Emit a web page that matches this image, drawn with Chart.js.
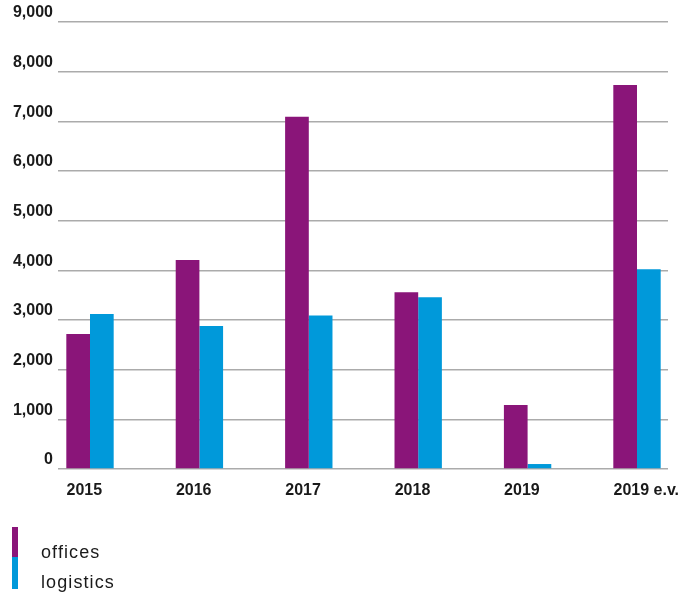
<!DOCTYPE html>
<html>
<head>
<meta charset="utf-8">
<script src="https://cdn.jsdelivr.net/npm/chart.js@4/dist/chart.umd.min.js"></script>
<style>
  html, body { margin: 0; padding: 0; background: #ffffff; }
  #wrap { position: relative; width: 694px; height: 596px; }
  .swatch { position: absolute; left: 12px; width: 6px; }
  .label { position: absolute; left: 41px; font-family: 'Liberation Sans', Arial, sans-serif; font-size: 18px; line-height: 20px; letter-spacing: 1.1px; color: #1a1a1a; }
</style>
</head>
<body>
<div id="wrap">
  <canvas id="chartVolumes" width="694" height="596"></canvas>
</div>
<script>
// --- Datos ---
const years = ['2015', '2016', '2017', '2018', '2019', '2019 e.v.'];
const offices = [2720, 4210, 7090, 3560, 1290, 7730];
const logistics = [3120, 2880, 3090, 3460, 100, 4020];
const yTicks = [0, 1000, 2000, 3000, 4000, 5000, 6000, 7000, 8000, 9000];

const colorOffices = '#8a1579';
const colorLogistics = '#0099da';
const font = "'Liberation Sans', Arial, sans-serif";

function toPoints(values) {
    return values.map((v, i) => ({ x: i, y: v }));
}

// --- Gráfico ---
new Chart(document.getElementById('chartVolumes').getContext('2d'), {
    type: 'bar',
    data: {
        datasets: [
            { label: 'offices', data: toPoints(offices), backgroundColor: colorOffices, borderWidth: 0 },
            { label: 'logistics', data: toPoints(logistics), backgroundColor: colorLogistics, borderWidth: 0 }
        ]
    },
    options: {
        responsive: false, animation: false,
        barPercentage: 1, categoryPercentage: 0.433,
        layout: { padding: { top: 22, right: 26, bottom: 0, left: 0 } },
        plugins: { legend: { display: false }, tooltip: { enabled: false } },
        scales: {
            x: {
                type: 'linear', offset: false, min: -0.2925, max: 5.2834,
                grid: { display: false }, border: { display: false },
                afterBuildTicks: s => { s.ticks = years.map((_, i) => ({ value: i })); },
                // etiquetas alineadas al borde izquierdo de cada grupo, sin relleno extra
                afterFit: s => { s.height = 127; s.paddingLeft = 0; s.paddingRight = 0; },
                ticks: {
                    autoSkip: false, maxRotation: 0, padding: 4, color: '#1a1a1a',
                    align: 'start', labelOffset: -23.5,
                    font: { family: font, size: 16, weight: 'bold' },
                    callback: v => years[v]
                }
            },
            y: {
                min: 0, max: 9000,
                afterBuildTicks: s => { s.ticks = yTicks.map(v => ({ value: v })); },
                afterFit: s => { s.width = 58; },
                border: { display: false },
                grid: { color: '#ababab', lineWidth: 1.5, drawTicks: false },
                ticks: {
                    padding: 5, labelOffset: -9, color: '#1a1a1a',
                    font: { family: font, size: 16, weight: 'bold' },
                    callback: v => v.toLocaleString('en-US')
                }
            }
        }
    }
});

// --- Leyenda ---
const wrap = document.getElementById('wrap');
const legendItems = [
    { name: 'offices', color: colorOffices, top: 527, height: 30, textTop: 542 },
    { name: 'logistics', color: colorLogistics, top: 557, height: 32, textTop: 572 }
];
legendItems.forEach(it => {
    const sw = document.createElement('div');
    sw.className = 'swatch';
    sw.style.top = it.top + 'px';
    sw.style.height = it.height + 'px';
    sw.style.background = it.color;
    wrap.appendChild(sw);
    const lb = document.createElement('div');
    lb.className = 'label';
    lb.style.top = it.textTop + 'px';
    lb.textContent = it.name;
    wrap.appendChild(lb);
});
</script>
</body>
</html>
